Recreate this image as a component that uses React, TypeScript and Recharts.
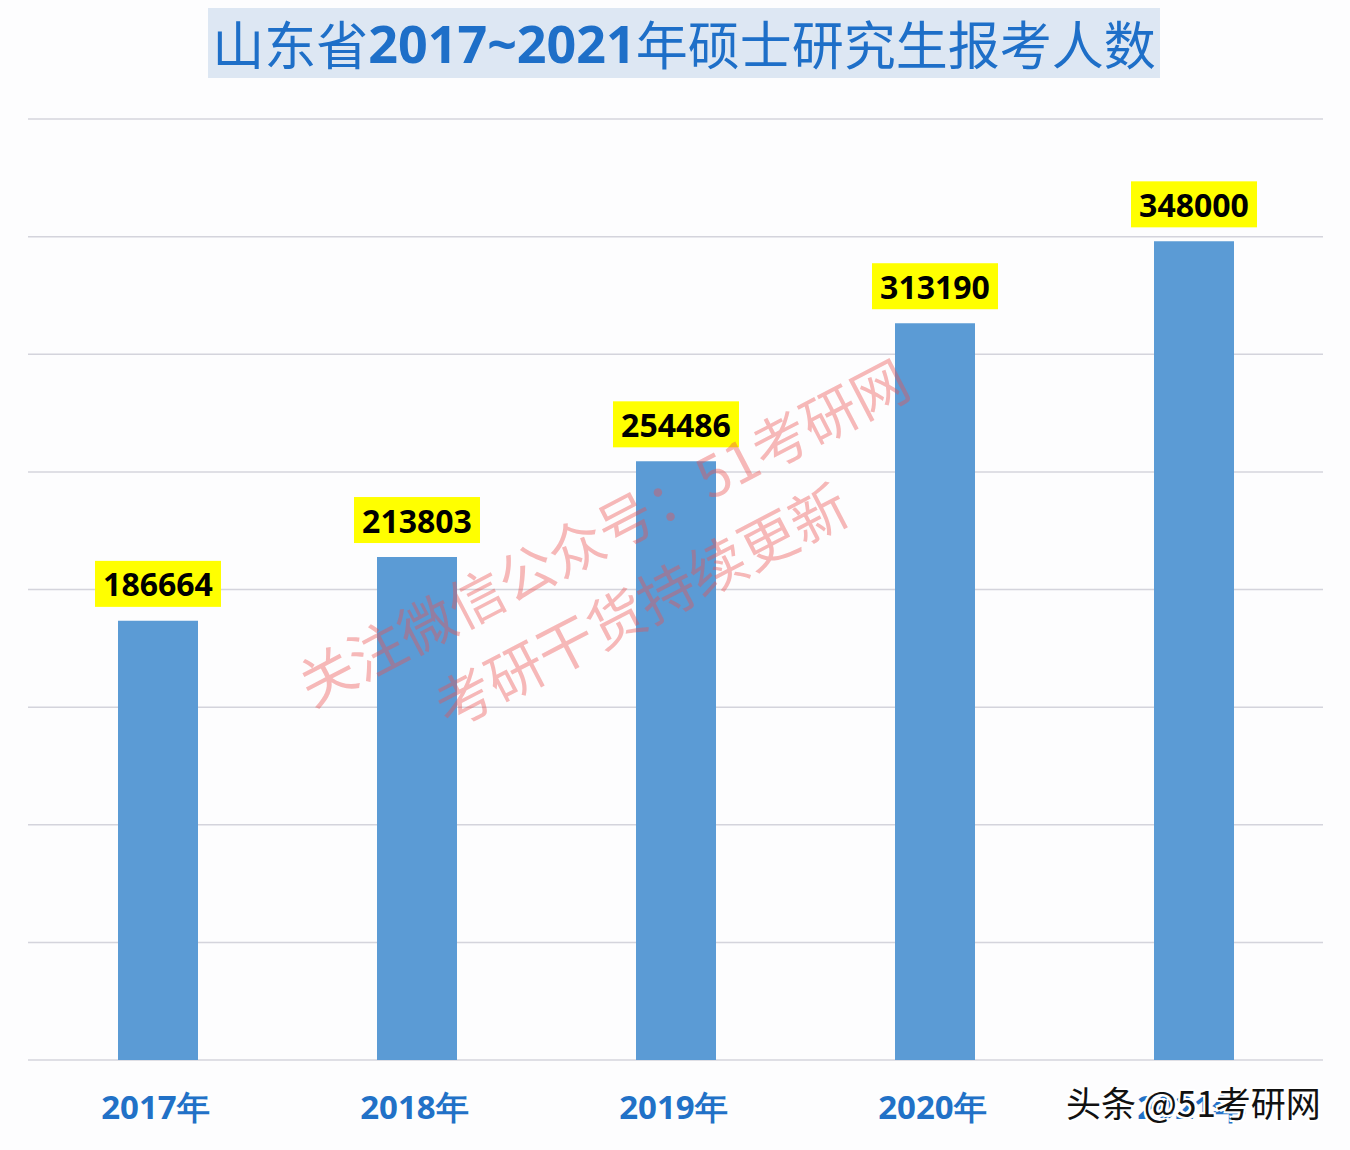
import React from "react";
import { BarChart, Bar, XAxis, YAxis, CartesianGrid, LabelList } from "recharts";

const years = ["2017年", "2018年", "2019年", "2020年", "2021年"];
const applicants = [186664, 213803, 254486, 313190, 348000];
const yTicks = [0, 50000, 100000, 150000, 200000, 250000, 300000, 350000, 400000];
const titleCn1 = "山东省";
const titleNum = "2017~2021";
const titleCn2 = "年硕士研究生报考人数";
const watermark1 = "关注微信公众号：51考研网";
const watermark2 = "考研干货持续更新";
const brandMark = "头条 @51考研网";

const data = years.map((y, i) => ({ year: y, value: applicants[i] }));

const LABEL_FONT = "'Open Sans', 'DejaVu Sans', sans-serif";

const renderLabel = (props: any) => {
  const { x, y, width, value } = props;
  const cx = x + width / 2;
  const boxW = 126;
  const boxH = 46;
  const bottom = y - 14;
  return (
    <g>
      <rect x={cx - boxW / 2} y={bottom - boxH} width={boxW} height={boxH} fill="#FFFF00" />
      <text
        x={cx}
        y={bottom - boxH / 2}
        textAnchor="middle"
        dominantBaseline="central"
        fontFamily={LABEL_FONT}
        fontWeight={700}
        fontSize={32}
        fill="#000"
      >
        {value}
      </text>
    </g>
  );
};

const renderTick = (props: any) => {
  const { x, y, payload } = props;
  return (
    <text
      x={x - 2}
      y={y + 51}
      textAnchor="middle"
      fontFamily={LABEL_FONT}
      fontWeight={700}
      fontSize={33}
      fill="#2171C7"
    >
      {payload.value}
    </text>
  );
};

export default function App() {
  return (
    <div style={{ position: "absolute", left: 0, top: 0, width: 1350, height: 1150, background: "#fdfdfe", overflow: "hidden" }}>
      <BarChart
        width={1350}
        height={1150}
        data={data}
        margin={{ top: 119, right: 27, bottom: 0, left: 28 }}
      >
        <CartesianGrid horizontal vertical={false} stroke="#d4d4dc" strokeWidth={1.5} />
        <YAxis hide domain={[0, 400000]} ticks={yTicks} width={0} />
        <XAxis
          dataKey="year"
          height={90}
          axisLine={false}
          tickLine={false}
          tick={renderTick}
          interval={0}
        />
        <Bar dataKey="value" fill="#5B9BD5" barSize={80} isAnimationActive={false}>
          <LabelList dataKey="value" content={renderLabel} />
        </Bar>
      </BarChart>

      {/* Title */}
      <div
        style={{
          position: "absolute",
          left: 208,
          top: 8,
          width: 952,
          height: 70,
          background: "#DDE7F3",
          display: "flex",
          alignItems: "center",
          justifyContent: "center",
          color: "#1E6FC8",
          fontSize: 52,
          whiteSpace: "nowrap",
          lineHeight: 1,
        }}
      >
        <span style={{ fontFamily: "'Noto Sans CJK SC', sans-serif", fontWeight: 400 }}>{titleCn1}</span>
        <span style={{ fontFamily: LABEL_FONT, fontWeight: 700 }}>{titleNum}</span>
        <span style={{ fontFamily: "'Noto Sans CJK SC', sans-serif", fontWeight: 400 }}>{titleCn2}</span>
      </div>

      {/* Watermarks */}
      <div
        style={{
          position: "absolute",
          left: 602,
          top: 530,
          transform: "translate(-50%, -50%) rotate(-27.5deg)",
          fontFamily: "'Noto Sans CJK SC', sans-serif",
          fontSize: 56,
          color: "rgba(235, 80, 80, 0.4)",
          whiteSpace: "nowrap",
          lineHeight: 1,
        }}
      >
        {watermark1}
      </div>
      <div
        style={{
          position: "absolute",
          left: 640,
          top: 603,
          transform: "translate(-50%, -50%) rotate(-27.5deg)",
          fontFamily: "'Noto Sans CJK SC', sans-serif",
          fontSize: 57,
          color: "rgba(235, 80, 80, 0.4)",
          whiteSpace: "nowrap",
          lineHeight: 1,
        }}
      >
        {watermark2}
      </div>
      <div
        style={{
          position: "absolute",
          left: 1066,
          top: 1084,
          fontFamily: "'Noto Sans CJK SC', sans-serif",
          fontSize: 35,
          color: "#111",
          whiteSpace: "nowrap",
          lineHeight: 1,
          textShadow: "2px 2px 0 #fff, -2px -2px 0 #fff, 2px -2px 0 #fff, -2px 2px 0 #fff",
        }}
      >
        {brandMark}
      </div>
    </div>
  );
}
